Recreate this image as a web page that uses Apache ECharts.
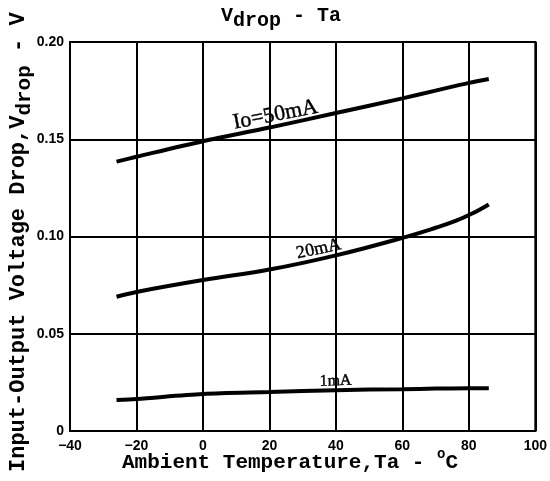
<!DOCTYPE html>
<html>
<head>
<meta charset="utf-8">
<script src="https://cdn.jsdelivr.net/npm/echarts@6/dist/echarts.min.js"></script>
<style>html,body{margin:0;padding:0;background:#fff}#c{width:550px;height:481px}</style>
</head>
<body>
<div id="c"></div>
<script>
// ---- data ----
var temps50 = [-26, -20, 0, 20, 40, 60, 70, 80, 86];
var v50mA   = [0.1385, 0.141, 0.149, 0.156, 0.1635, 0.171, 0.175, 0.179, 0.181];
var temps20 = [-26, -20, 0, 20, 40, 60, 70, 76, 81, 86];
var v20mA   = [0.069, 0.0715, 0.0776, 0.083, 0.0903, 0.0993, 0.1045, 0.108, 0.1118, 0.1165];
var temps1  = [-26, -20, 0, 20, 40, 60, 70, 80, 86];
var v1mA    = [0.016, 0.0165, 0.019, 0.020, 0.021, 0.0215, 0.0218, 0.022, 0.022];
var xTicks = [-40, -20, 0, 20, 40, 60, 80, 100];
var yTicks = ['0', '0.05', '0.10', '0.15', '0.20'];
var curveNames = ['Io=50mA', '20mA', '1mA'];
// label anchors (data coords) and tilt for the curve annotations
var labelAt = [[21.8, 0.1625], [34.8, 0.0935], [39.9, 0.0257]];
var labelTilt = [11, 12, 1.5];
var labelSize = [22, 18, 16];

function pairs(xs, ys) { return xs.map(function (x, i) { return [x, ys[i]]; }); }

var chart = echarts.init(document.getElementById('c'));
var lineStyle = { color: '#000', width: 4 };
var gridLine = { show: true, lineStyle: { color: '#000', width: 2 } };
var mono = '"Liberation Mono", "DejaVu Sans Mono", monospace';

chart.setOption({
  animation: false,
  backgroundColor: '#fff',
  grid: { left: 70, right: 12, top: 42, bottom: 50, show: true, borderColor: '#000', borderWidth: 2 },
  xAxis: {
    type: 'value', min: -40, max: 100, interval: 20,
    axisLine: { show: true, lineStyle: { color: '#000', width: 2 } },
    axisTick: { show: false },
    splitLine: gridLine,
    axisLabel: {
      color: '#000', fontWeight: 'bold', fontSize: 14, margin: 8,
      fontFamily: '"Liberation Sans", Arial, sans-serif',
      formatter: function (v) { var i = xTicks.indexOf(v); return i >= 0 ? String(xTicks[i]).replace('-', '\u2212') : ''; }
    }
  },
  yAxis: {
    type: 'value', min: 0, max: 0.2, interval: 0.05,
    axisLine: { show: true, lineStyle: { color: '#000', width: 2 } },
    axisTick: { show: true, length: 4, lineStyle: { color: '#000', width: 2 } },
    splitLine: gridLine,
    axisLabel: {
      color: '#000', fontWeight: 'bold', fontSize: 14, margin: 6,
      fontFamily: '"Liberation Sans", Arial, sans-serif',
      formatter: function (v) { return yTicks[Math.round(v / 0.05)]; }
    }
  },
  series: [
    { type: 'line', data: pairs(temps50, v50mA), smooth: 0.3, symbol: 'none', lineStyle: lineStyle },
    { type: 'line', data: pairs(temps20, v20mA), smooth: 0.4, symbol: 'none', lineStyle: lineStyle },
    { type: 'line', data: pairs(temps1, v1mA), smooth: 0.3, symbol: 'none', lineStyle: lineStyle }
  ]
});

function txt(x, y, s, size) {
  return {
    type: 'text', x: x, y: y,
    style: { text: s, fill: '#000', font: 'bold ' + size + 'px ' + mono, align: 'left', verticalAlign: 'middle' }
  };
}

var graphics = [];
// curve labels placed through the chart's own scales
curveNames.forEach(function (name, i) {
  var p = chart.convertToPixel({ gridIndex: 0 }, labelAt[i]);
  graphics.push({
    type: 'text', x: p[0], y: p[1], rotation: labelTilt[i] * Math.PI / 180,
    style: { text: name, fill: '#000', font: labelSize[i] + 'px "Liberation Serif", "Times New Roman", serif',
             align: 'center', verticalAlign: 'middle', stroke: '#000', lineWidth: 0.4 }
  });
});
// title  "V_drop - Ta"
var tw = 12; // char width for 20px mono
graphics.push(txt(221, 16, 'V', 20));
graphics.push(txt(221 + tw, 21, 'drop', 20));
graphics.push(txt(221 + 5 * tw, 16, ' - Ta', 20));
// x axis title  "Ambient Temperature,Ta - °C"
var xw = 12.6;
graphics.push(txt(122, 463, 'Ambient Temperature,Ta - ', 21));
graphics.push(txt(122 + 25 * xw, 454, 'o', 14));
graphics.push(txt(122 + 25 * xw + 8.6, 463, 'C', 21));
// y axis title (rotated, reads bottom to top)
var yw = 13.2;
var start = -231;
graphics.push({
  type: 'group', x: 18, y: 241, rotation: Math.PI / 2,
  children: [
    txt(start, 0, 'Input-Output Voltage Drop,V', 22),
    txt(start + 27 * yw, 7, 'drop', 21),
    txt(start + 27 * yw + 4 * 12.6, 0, ' - V', 22)
  ]
});
chart.setOption({ graphic: graphics });
</script>
</body>
</html>
